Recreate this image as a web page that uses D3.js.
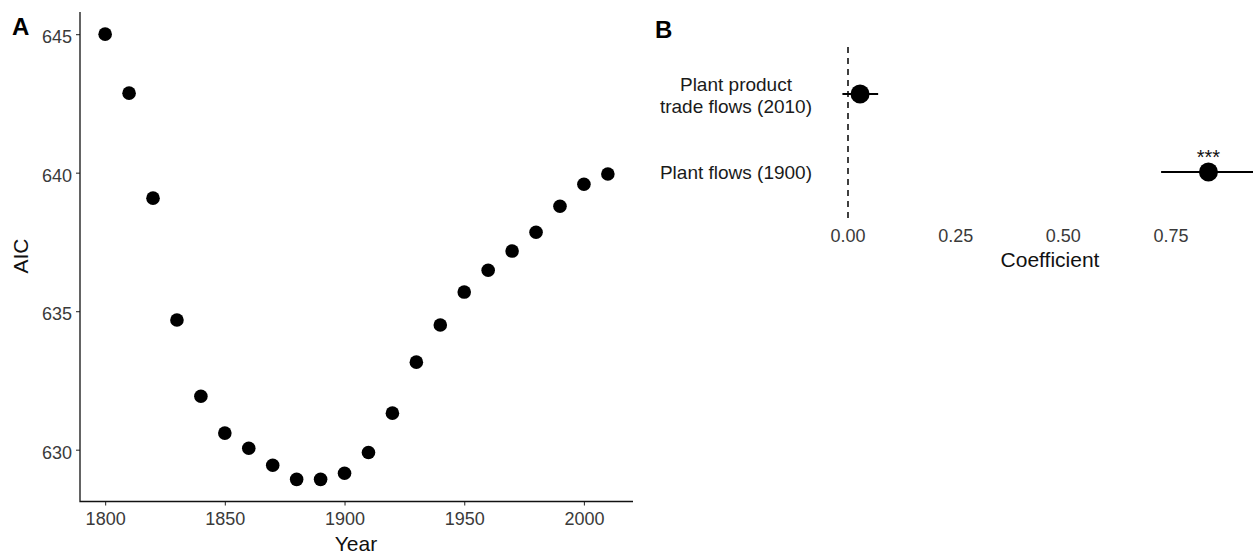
<!DOCTYPE html>
<html>
<head>
<meta charset="utf-8">
<script src="https://cdn.jsdelivr.net/npm/d3@7"></script>
<style>
  html, body { margin: 0; padding: 0; background: #fff; }
  svg { display: block; font-family: "Liberation Sans", Arial, sans-serif; }
</style>
</head>
<body>
<svg id="chart" width="1253" height="554"></svg>
<script>
// Panel A: model AIC by reference year
const years = [1800, 1810, 1820, 1830, 1840, 1850, 1860, 1870, 1880, 1890, 1900,
               1910, 1920, 1930, 1940, 1950, 1960, 1970, 1980, 1990, 2000, 2010];
const aic = [645.0, 642.87, 639.08, 634.68, 631.93, 630.6, 630.05, 629.44, 628.93, 628.93, 629.15,
             629.9, 631.32, 633.16, 634.5, 635.69, 636.48, 637.17, 637.85, 638.79, 639.58, 639.95];
const yearTicks = [1800, 1850, 1900, 1950, 2000];
const aicTicks = [630, 635, 640, 645];

// Panel B: coefficient estimates with confidence intervals
const predictors = ["Plant product\ntrade flows (2010)", "Plant flows (1900)"];
const coef = [0.028, 0.837];
const ciLow = [-0.013, 0.727];
const ciHigh = [0.070, 0.96];
const signif = ["", "***"];
const coefTicks = [0, 0.25, 0.5, 0.75];

const svg = d3.select("#chart");
const tickColor = "#3a3a3a";

// ---------- Panel A ----------
const xA = d3.scaleLinear().domain([1789.5, 2020.5]).range([80, 633]);
const yA = d3.scaleLinear().domain([628.13, 645.8]).range([501.5, 12]);

const gA = svg.append("g");

const axA_x = gA.append("g").attr("transform", `translate(0,${yA.range()[0]})`)
  .call(d3.axisBottom(xA).tickValues(yearTicks).tickFormat(d3.format("d")).tickSizeOuter(0).tickSize(4).tickPadding(4));
const axA_y = gA.append("g").attr("transform", `translate(${xA.range()[0]},0)`)
  .call(d3.axisLeft(yA).tickValues(aicTicks).tickFormat(d3.format("d")).tickSizeOuter(0).tickSize(4).tickPadding(4));

[axA_x, axA_y].forEach(ax => {
  ax.select(".domain").remove();
  ax.selectAll(".tick line").attr("stroke", "#333").attr("stroke-width", 1.1);
  ax.selectAll(".tick text").attr("fill", tickColor).style("font-size", "18px");
});
axA_x.selectAll(".tick text").attr("y", 23.5).attr("dy", null);
axA_y.selectAll(".tick text").attr("dy", "0.47em").attr("x", -8);

// axis lines meeting at the corner
gA.append("path")
  .attr("d", `M${xA.range()[0]},${yA.range()[1]}V${yA.range()[0]}H${xA.range()[1]}`)
  .attr("fill", "none").attr("stroke", "#111").attr("stroke-width", 1.3);

gA.selectAll("circle.pt")
  .data(years.map((y, i) => ({ y, v: aic[i] })))
  .join("circle")
  .attr("class", "pt")
  .attr("cx", d => xA(d.y))
  .attr("cy", d => yA(d.v))
  .attr("r", 6.8)
  .attr("fill", "#000");

gA.append("text").attr("x", 356).attr("y", 551).attr("text-anchor", "middle")
  .style("font-size", "21px").attr("fill", "#111").text("Year");
gA.append("text").attr("transform", "translate(28,256) rotate(-90)").attr("text-anchor", "middle")
  .style("font-size", "21px").attr("fill", "#111").text("AIC");
gA.append("text").attr("x", 12).attr("y", 35)
  .style("font-size", "24px").style("font-weight", "bold").attr("fill", "#000").text("A");

// ---------- Panel B ----------
const xB = d3.scaleLinear().domain([0, 0.75]).range([848, 1171]);
const yB = d3.scalePoint().domain(predictors).range([94, 172]);

const gB = svg.append("g");
const clip = svg.append("clipPath").attr("id", "clipB");
clip.append("rect").attr("x", 820).attr("y", 40).attr("width", 433).attr("height", 185);

// reference line at zero
gB.append("line")
  .attr("x1", xB(0)).attr("x2", xB(0))
  .attr("y1", 47).attr("y2", 220)
  .attr("stroke", "#111").attr("stroke-width", 1.6)
  .attr("stroke-dasharray", "6,5");

const rows = predictors.map((p, i) => ({ p, c: coef[i], lo: ciLow[i], hi: ciHigh[i], s: signif[i] }));
const plotB = gB.append("g").attr("clip-path", "url(#clipB)");

plotB.selectAll("line.ci").data(rows).join("line")
  .attr("class", "ci")
  .attr("x1", d => xB(d.lo)).attr("x2", d => xB(d.hi))
  .attr("y1", d => yB(d.p)).attr("y2", d => yB(d.p))
  .attr("stroke", "#000").attr("stroke-width", 1.8);

plotB.selectAll("circle.est").data(rows).join("circle")
  .attr("class", "est")
  .attr("cx", d => xB(d.c)).attr("cy", d => yB(d.p))
  .attr("r", 9.5).attr("fill", "#000");

plotB.selectAll("text.sig").data(rows).join("text")
  .attr("class", "sig")
  .attr("x", d => xB(d.c)).attr("y", d => yB(d.p) - 8)
  .attr("text-anchor", "middle")
  .style("font-size", "20px").attr("fill", "#111")
  .text(d => d.s);

// category labels (multi-line, centred lines, right edge against the panel)
const labelRight = 812;
const lineH = 21.5;
rows.forEach(d => {
  const lines = d.p.split("\n");
  const t = gB.append("text")
    .style("font-size", "19px").attr("fill", "#1a1a1a");
  const y0 = yB(d.p) + (lines.length > 1 ? 1.5 : 0) - (lines.length - 1) * lineH / 2;
  lines.forEach((ln, k) => {
    t.append("tspan").attr("x", 0).attr("y", y0 + k * lineH).attr("dy", "0.35em")
      .attr("text-anchor", "middle").text(ln);
  });
  const bb = t.node().getBBox();
  t.attr("transform", `translate(${labelRight - bb.width / 2},0)`);
});

// x axis tick labels
gB.selectAll("text.tick").data(coefTicks).join("text")
  .attr("class", "tick")
  .attr("x", d => xB(d)).attr("y", 241.7)
  .attr("text-anchor", "middle")
  .style("font-size", "18px").attr("fill", tickColor)
  .text(d => d3.format(".2f")(d));

gB.append("text").attr("x", 1050).attr("y", 267).attr("text-anchor", "middle")
  .style("font-size", "21px").attr("fill", "#111").text("Coefficient");
gB.append("text").attr("x", 655).attr("y", 38)
  .style("font-size", "24px").style("font-weight", "bold").attr("fill", "#000").text("B");
</script>
</body>
</html>
